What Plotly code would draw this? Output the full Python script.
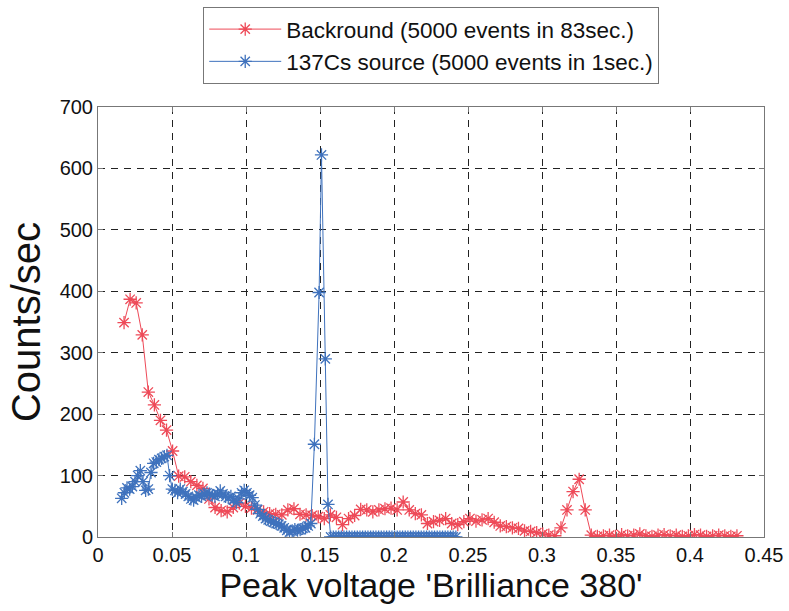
import plotly.graph_objects as go

# Background spectrum: bin centres (V) and rate (counts/sec)
bg_voltage = [
    0.0176, 0.0217, 0.0258, 0.0299, 0.0340, 0.0381, 0.0422, 0.0463, 0.0504, 0.0545,
    0.0586, 0.0627, 0.0668, 0.0709, 0.0750, 0.0791, 0.0832, 0.0873, 0.0914, 0.0955,
    0.0996, 0.1037, 0.1078, 0.1119, 0.1160, 0.1201, 0.1242, 0.1283, 0.1324, 0.1365,
    0.1406, 0.1447, 0.1488, 0.1529, 0.1570, 0.1611, 0.1652, 0.1693, 0.1734, 0.1775,
    0.1816, 0.1857, 0.1898, 0.1939, 0.1980, 0.2021, 0.2062, 0.2103, 0.2144, 0.2185,
    0.2226, 0.2267, 0.2308, 0.2349, 0.2390, 0.2431, 0.2472, 0.2513, 0.2554, 0.2595,
    0.2636, 0.2677, 0.2718, 0.2759, 0.2800, 0.2841, 0.2882, 0.2923, 0.2964, 0.3005,
    0.3046, 0.3087, 0.3128, 0.3169, 0.3210, 0.3251, 0.3292, 0.3333, 0.3374, 0.3415,
    0.3456, 0.3497, 0.3538, 0.3579, 0.3620, 0.3661, 0.3702, 0.3743, 0.3784, 0.3825,
    0.3866, 0.3907, 0.3948, 0.3989, 0.4030, 0.4071, 0.4112, 0.4153, 0.4194, 0.4235,
    0.4276, 0.4317,
]
bg_rate = [
    349, 387, 381, 329, 236, 215, 190, 174, 140, 99,
    98, 90, 84, 79, 62, 48, 43, 41, 48, 55,
    50, 47, 44, 41, 38, 37, 36, 44, 46, 37,
    36, 35, 33, 30, 36, 32, 20, 30, 35, 45,
    44, 41, 44, 46, 47, 44, 57, 44, 38, 36,
    22, 25, 27, 30, 22, 20, 25, 30, 26, 28,
    30, 24, 18, 17, 15, 14, 10, 9, 7, 5,
    3, 2, 15, 44, 74, 94, 44, 3, 1, 2,
    3, 1, 4, 2, 3, 5, 2, 1, 3, 4,
    2, 3, 1, 2, 4, 3, 1, 2, 3, 2,
    1, 2,
]

# 137Cs source spectrum: bin centres (V) and rate (counts/sec)
cs_voltage = [
    0.0160, 0.0178, 0.0196, 0.0214, 0.0232, 0.0250, 0.0268, 0.0286, 0.0304, 0.0322,
    0.0340, 0.0358, 0.0376, 0.0394, 0.0412, 0.0430, 0.0448, 0.0466, 0.0484, 0.0502,
    0.0520, 0.0538, 0.0556, 0.0574, 0.0592, 0.0610, 0.0628, 0.0646, 0.0664, 0.0682,
    0.0700, 0.0718, 0.0736, 0.0754, 0.0772, 0.0790, 0.0808, 0.0826, 0.0844, 0.0862,
    0.0880, 0.0898, 0.0916, 0.0934, 0.0952, 0.0970, 0.0988, 0.1006, 0.1024, 0.1042,
    0.1060, 0.1078, 0.1096, 0.1114, 0.1132, 0.1150, 0.1168, 0.1186, 0.1204, 0.1222,
    0.1240, 0.1258, 0.1276, 0.1294, 0.1312, 0.1330, 0.1348, 0.1366, 0.1384, 0.1402,
    0.1420, 0.1438,
    0.1462, 0.1494, 0.1510, 0.1536, 0.1554,
    0.1572, 0.1590, 0.1608, 0.1626, 0.1644, 0.1662, 0.1680, 0.1698, 0.1716, 0.1734,
    0.1752, 0.1770, 0.1788, 0.1806, 0.1824, 0.1842, 0.1860, 0.1878, 0.1896, 0.1914,
    0.1932, 0.1950, 0.1968, 0.1986, 0.2004, 0.2022, 0.2040, 0.2058, 0.2076, 0.2094,
    0.2112, 0.2130, 0.2148, 0.2166, 0.2184, 0.2202, 0.2220, 0.2238, 0.2256, 0.2274,
    0.2292, 0.2310, 0.2328, 0.2346, 0.2364, 0.2382, 0.2400, 0.2418,
]
cs_rate = [
    63, 72, 80, 78, 82, 90, 100, 108, 90, 76,
    78, 105, 120, 122, 126, 128, 131, 133, 100, 78,
    76, 72, 78, 74, 70, 66, 62, 60, 64, 68,
    66, 70, 72, 70, 68, 66, 70, 75, 70, 66,
    64, 66, 60, 56, 62, 72, 76, 72, 68, 64,
    52, 45, 38, 34, 30, 28, 26, 24, 22, 21,
    18, 15, 11, 8, 10, 12, 11, 12, 14, 15,
    18, 22,
    151, 398, 622, 290, 53,
    0, 0, 0, 0, 0, 0, 0, 0, 0, 0,
    0, 0, 0, 0, 0, 0, 0, 0, 0, 0,
    0, 0, 0, 0, 0, 0, 0, 0, 0, 0,
    0, 0, 0, 0, 0, 0, 0, 0, 0, 0,
    0, 0, 0, 0, 0, 0, 0, 0,
]

x_ticks = [0, 0.05, 0.1, 0.15, 0.2, 0.25, 0.3, 0.35, 0.4, 0.45]
x_tick_text = ["0", "0.05", "0.1", "0.15", "0.2", "0.25", "0.3", "0.35", "0.4", "0.45"]
y_ticks = [0, 100, 200, 300, 400, 500, 600, 700]

RED = "#ee4a58"
BLUE = "#3f72bd"
FONT = "Liberation Sans, Arial, sans-serif"
INK = "#111111"

fig = go.Figure()
fig.add_trace(go.Scatter(
    x=bg_voltage, y=bg_rate, mode="lines+markers",
    name="Backround (5000 events in 83sec.)",
    line=dict(color=RED, width=1),
    marker=dict(symbol="asterisk-open", size=11, color=RED,
                line=dict(color=RED, width=1.3)),
))
fig.add_trace(go.Scatter(
    x=cs_voltage, y=cs_rate, mode="lines+markers",
    name="137Cs source (5000 events in 1sec.)",
    line=dict(color=BLUE, width=1),
    marker=dict(symbol="asterisk-open", size=11, color=BLUE,
                line=dict(color=BLUE, width=1.3)),
))

axis_common = dict(
    showline=True, linecolor="#777777", linewidth=1, mirror="ticks",
    ticks="inside", ticklen=5, tickcolor="#777777",
    showgrid=True, gridcolor="#222222", gridwidth=1, griddash="7px,6px",
    zeroline=False,
    tickfont=dict(family=FONT, size=20, color=INK),
)

fig.update_xaxes(
    range=[0, 0.45], tickvals=x_ticks, ticktext=x_tick_text,
    title=dict(text="Peak voltage 'Brilliance 380'",
               font=dict(family=FONT, size=34, color=INK), standoff=6),
    **axis_common,
)
fig.update_yaxes(
    range=[0, 700], tickvals=y_ticks,
    title=dict(text="Counts/sec",
               font=dict(family=FONT, size=40, color=INK), standoff=6),
    **axis_common,
)

fig.update_layout(
    width=789, height=611,
    margin=dict(l=98, r=25, t=107, b=74, autoexpand=False),
    paper_bgcolor="white", plot_bgcolor="white",
    showlegend=True,
    legend=dict(
        x=0.158, y=1.2326, xanchor="left", yanchor="top",
        bordercolor="#777777", borderwidth=1, bgcolor="white",
        font=dict(family=FONT, size=22.5, color=INK),
        itemwidth=72,
    ),
)

fig.write_html("out.html")
